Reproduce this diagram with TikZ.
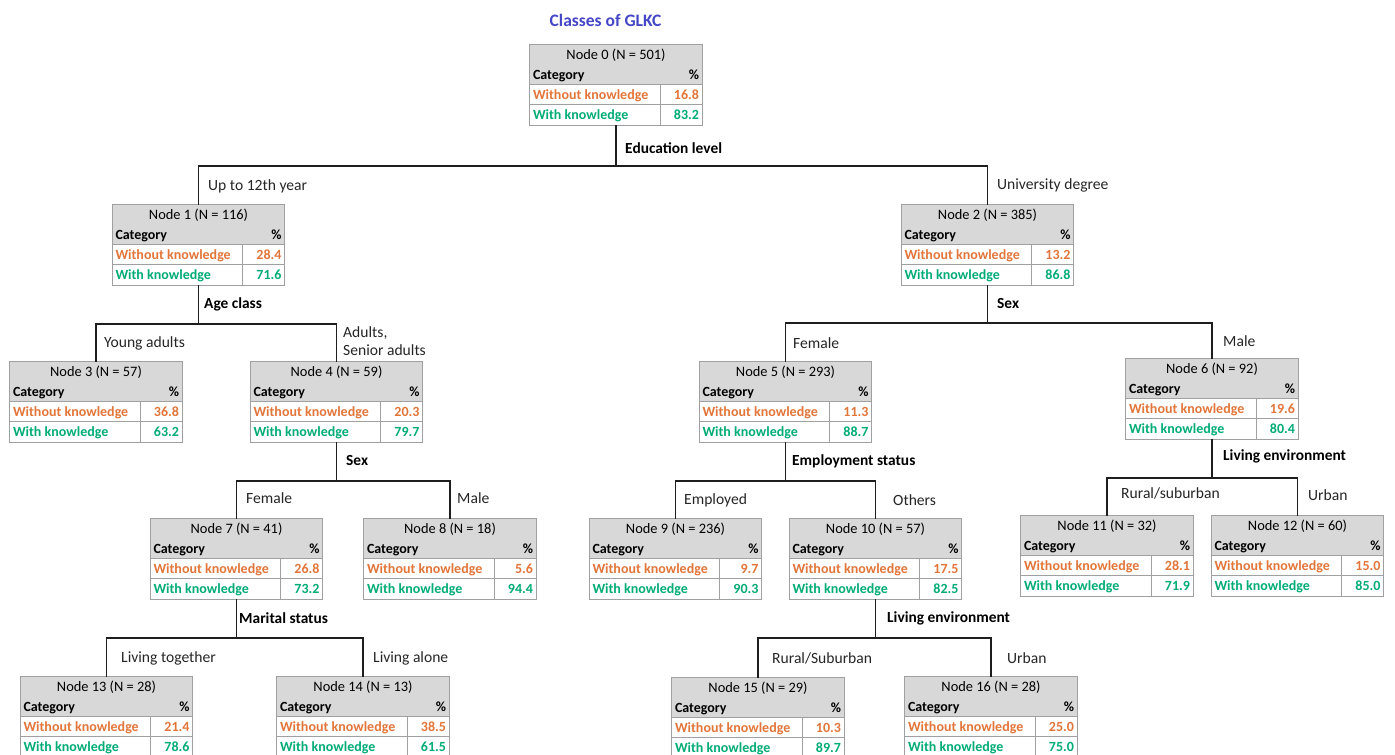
\documentclass[tikz,border=0pt]{standalone}
\usepackage{fontspec}
\setmainfont{Carlito}
\usetikzlibrary{calc}
\definecolor{hdrgray}{RGB}{216,216,216}
\definecolor{gridgray}{RGB}{160,160,160}
\definecolor{orng}{RGB}{226,118,58}
\definecolor{grn}{RGB}{0,172,118}
\definecolor{ttlblue}{RGB}{70,70,200}
\definecolor{connc}{RGB}{30,30,30}
\tikzset{
  tbl/.style={rectangle,minimum width=172pt,minimum height=80pt,inner sep=0pt,draw=none},
  gridl/.style={draw=gridgray,line width=1.1pt},
  conn/.style={draw=connc,line width=1.3pt},
  cell/.style={inner sep=0pt,font=\fontsize{14}{16}\selectfont\bfseries},
  ttlcell/.style={inner sep=0pt,font=\fontsize{14.4}{16}\selectfont},
  brlbl/.style={inner sep=0pt,anchor=west,font=\fontsize{15.6}{18}\selectfont,text=black!85},
  splbl/.style={inner sep=0pt,anchor=west,font=\fontsize{15.4}{18}\selectfont\bfseries},
}
\newcommand{\dtable}[6]{%
  \node[tbl] (#1) at (#2,#3+40) {};
  \fill[hdrgray] (#1.north west) rectangle ($(#1.north east)+(0,40)$);
  \draw[gridl] ($(#1.north west)+(0,40)$) -- ($(#1.north east)+(0,40)$);
  \draw[gridl] ($(#1.north west)+(0,60)$) -- ($(#1.north east)+(0,60)$);
  \draw[gridl] ($(#1.north east)+(-42,40)$) -- ($(#1.south east)+(-42,0)$);
  \draw[gridl] (#1.north west) rectangle (#1.south east);
  \node[ttlcell,anchor=base] at ($(#1.north)+(0,15)$) {#4};
  \node[cell,anchor=base west] at ($(#1.north west)+(3,35)$) {Category};
  \node[cell,anchor=base east] at ($(#1.north east)+(-3,35)$) {\%};
  \node[cell,anchor=base west,text=orng] at ($(#1.north west)+(3,55)$) {Without knowledge};
  \node[cell,anchor=base east,text=orng] at ($(#1.north east)+(-3,55)$) {#5};
  \node[cell,anchor=base west,text=grn] at ($(#1.north west)+(3,75)$) {With knowledge};
  \node[cell,anchor=base east,text=grn] at ($(#1.north east)+(-3,75)$) {#6};
}
\begin{document}
\begin{tikzpicture}[x=1pt,y=-1pt]
\useasboundingbox (0,0) rectangle (1395,755);
\fill[white] (0,0) rectangle (1395,755);

\node[inner sep=0pt,font=\fontsize{17.5}{20}\selectfont\bfseries,text=ttlblue] (title) at (605.5,20) {Classes of GLKC};

\dtable{n0}{616}{45}{Node 0 (N = 501)}{16.8}{83.2}
\dtable{n1}{198.5}{205}{Node 1 (N = 116)}{28.4}{71.6}
\dtable{n2}{987.5}{205}{Node 2 (N = 385)}{13.2}{86.8}
\dtable{n3}{96}{362}{Node 3 (N = 57)}{36.8}{63.2}
\dtable{n4}{336.5}{362}{Node 4 (N = 59)}{20.3}{79.7}
\dtable{n5}{785.5}{362}{Node 5 (N = 293)}{11.3}{88.7}
\dtable{n6}{1212}{359}{Node 6 (N = 92)}{19.6}{80.4}
\dtable{n7}{236.5}{519}{Node 7 (N = 41)}{26.8}{73.2}
\dtable{n8}{450}{519}{Node 8 (N = 18)}{5.6}{94.4}
\dtable{n9}{675.5}{519}{Node 9 (N = 236)}{9.7}{90.3}
\dtable{n10}{875.5}{519}{Node 10 (N = 57)}{17.5}{82.5}
\dtable{n11}{1107}{516}{Node 11 (N = 32)}{28.1}{71.9}
\dtable{n12}{1297.5}{516}{Node 12 (N = 60)}{15.0}{85.0}
\dtable{n13}{106.5}{677}{Node 13 (N = 28)}{21.4}{78.6}
\dtable{n14}{363}{677}{Node 14 (N = 13)}{38.5}{61.5}
\dtable{n15}{758}{678}{Node 15 (N = 29)}{10.3}{89.7}
\dtable{n16}{991}{677}{Node 16 (N = 28)}{25.0}{75.0}

% split levels
\coordinate (s0) at (0,166);
\coordinate (s1) at (0,324);
\coordinate (s2) at (0,323);
\coordinate (s4) at (0,481);
\coordinate (s5) at (0,481);
\coordinate (s6) at (0,478);
\coordinate (s7) at (0,638);
\coordinate (s10) at (0,638);

\draw[conn] (n0.south) -- (n0.south |- s0) -| (n1.north);
\draw[conn] (n0.south |- s0) -| (n2.north);
\draw[conn] (n1.south) -- (n1.south |- s1) -| (n3.north);
\draw[conn] (n1.south |- s1) -| (n4.north);
\draw[conn] (n2.south) -- (n2.south |- s2) -| (n5.north);
\draw[conn] (n2.south |- s2) -| (n6.north);
\draw[conn] (n4.south) -- (n4.south |- s4) -| (n7.north);
\draw[conn] (n4.south |- s4) -| (n8.north);
\draw[conn] (n5.south) -- (n5.south |- s5) -| (n9.north);
\draw[conn] (n5.south |- s5) -| (n10.north);
\draw[conn] (n6.south) -- (n6.south |- s6) -| (n11.north);
\draw[conn] (n6.south |- s6) -| (n12.north);
\draw[conn] (n7.south) -- (n7.south |- s7) -| (n13.north);
\draw[conn] (n7.south |- s7) -| (n14.north);
\draw[conn] (n10.south) -- (n10.south |- s10) -| (n15.north);
\draw[conn] (n10.south |- s10) -| (n16.north);

% split labels
\node[splbl] (l0) at (625,148) {Education level};
\node[splbl] (l1) at (204,304) {Age class};
\node[splbl] (l2) at (997,304) {Sex};
\node[splbl] (l4) at (346,461) {Sex};
\node[splbl] (l5) at (792,461) {Employment status};
\node[splbl] (l6) at (1223,456) {Living environment};
\node[splbl] (l7) at (239,618) {Marital status};
\node[splbl] (l10) at (887,618) {Living environment};

% branch labels
\node[brlbl] (b1) at (208,186) {Up to 12th year};
\node[brlbl] (b2) at (997,185) {University degree};
\node[brlbl] (b3) at (104,343) {Young adults};
\node[brlbl,align=left] (b4) at (343,341) {Adults,\\Senior adults};
\node[brlbl] (b5) at (793,343) {Female};
\node[brlbl] (b6) at (1223,341) {Male};
\node[brlbl] (b7) at (246,498) {Female};
\node[brlbl] (b8) at (457,498) {Male};
\node[brlbl] (b9) at (684,500) {Employed};
\node[brlbl] (b10) at (893,500) {Others};
\node[brlbl] (b11) at (1121,493) {Rural/suburban};
\node[brlbl] (b12) at (1308,495) {Urban};
\node[brlbl] (b13) at (121,658) {Living together};
\node[brlbl] (b14) at (373,658) {Living alone};
\node[brlbl] (b15) at (772,658) {Rural/Suburban};
\node[brlbl] (b16) at (1007,658) {Urban};
\end{tikzpicture}
\end{document}
